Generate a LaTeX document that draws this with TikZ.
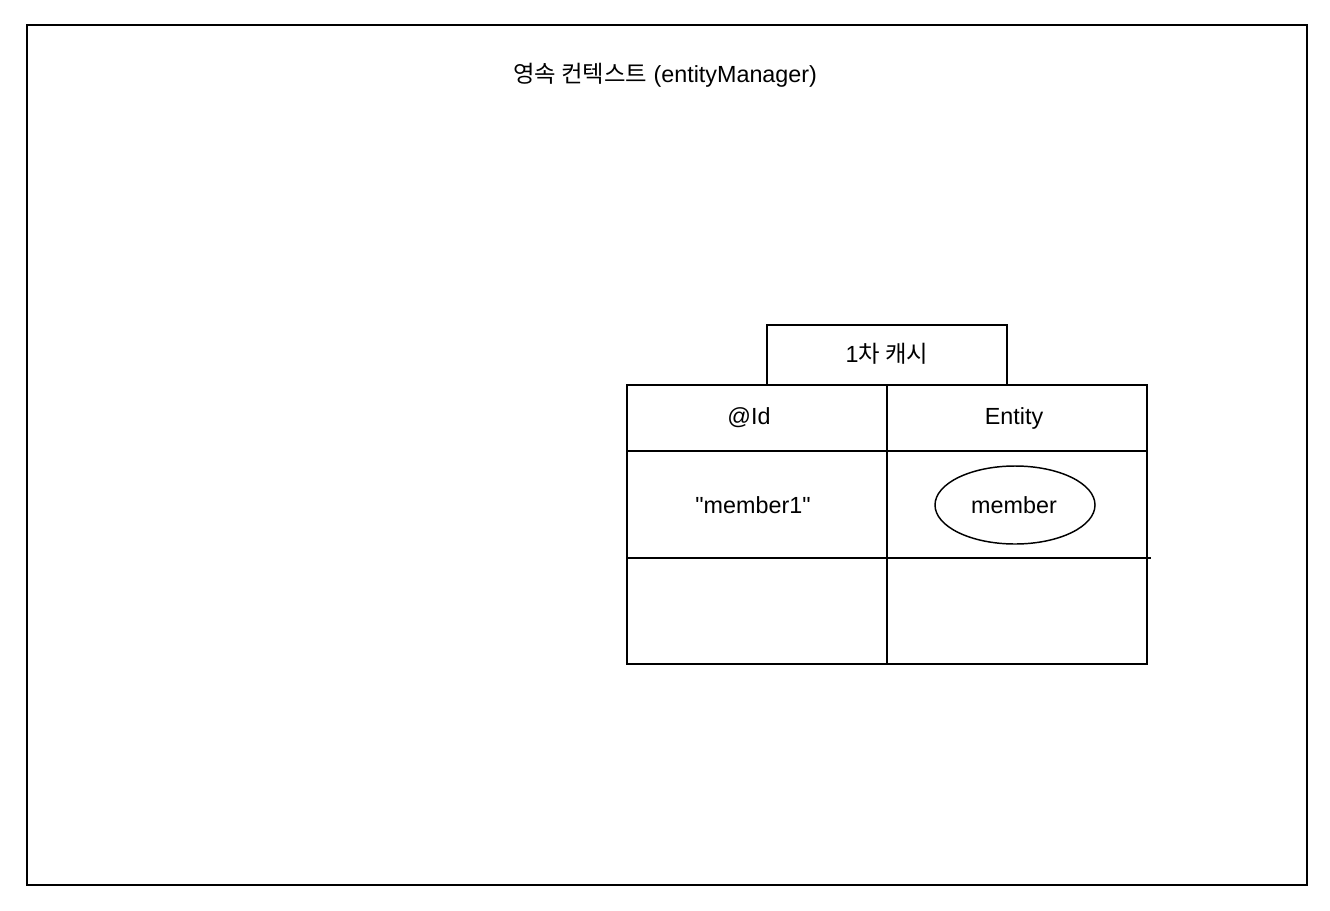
\documentclass[tikz,border=0pt]{standalone}
\usepackage{fontspec}
\setmainfont{Liberation Sans}
\newfontfamily\plainf{Liberation Sans}
\newfontfamily\kr{Noto Sans CJK KR}
\begin{document}
\begin{tikzpicture}[x=0.75pt,y=-0.75pt,
  line/.style={draw=black,line width=1.1pt},
  lbl/.style={font=\plainf\fontsize{17.5}{20}\selectfont,inner sep=0pt}]
\useasboundingbox[fill=white] (0,0) rectangle (1330,910);
\draw[line] (27,25) rectangle (1307,885);
\node[lbl] (title) at (665,75) {{\kr 영속 컨텍스트} (entityManager)};
\draw[line] (767,384) -- (767,325) -- (1007,325) -- (1007,384);
\node[lbl] (cache) at (887,354) {1{\kr 차 캐시}};
\draw[line] (627,385) rectangle (1147,664);
\draw[line] (887,385) -- (887,664);
\draw[line] (627,451) -- (1147,451);
\draw[line] (627,558) -- (1151,558);
\node[lbl] (id) at (749,418) {@Id};
\node[lbl] (ent) at (1014,418) {Entity};
\node[lbl] (key) at (753,505) {"member1"};
\draw[line] (1015,505) ellipse [x radius=80, y radius=39];
\node[lbl] (mem) at (1014,505) {member};
\end{tikzpicture}
\end{document}
